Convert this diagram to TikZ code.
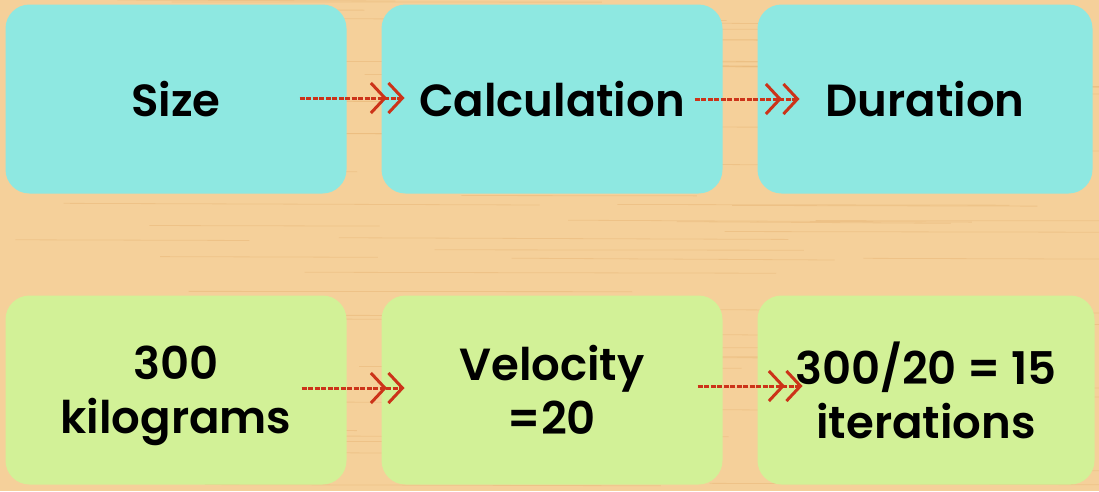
\documentclass[tikz,border=0pt]{standalone}
\usepackage{fontspec}
\setmainfont{Poppins SemiBold}
\usepackage{xcolor}
\usetikzlibrary{arrows.meta,positioning}

\definecolor{woodtan}{HTML}{F5D09A}
\definecolor{woodgrain}{HTML}{E8B676}
\definecolor{cardcyan}{HTML}{8EE8E1}
\definecolor{cardgreen}{HTML}{D2F197}
\definecolor{chalkred}{HTML}{CC3319}

\begin{document}
\begin{tikzpicture}[x=1pt, y=-1pt, node distance=35pt,
    card/.style={rectangle, rounded corners=24pt, minimum width=341pt, minimum height=189pt,
      inner sep=0pt, outer sep=0pt, align=center, text depth=0pt, font=\fontsize{45}{54}\selectfont},
    topcard/.style={card, fill=cardcyan},
    lowcard/.style={card, fill=cardgreen},
    chalk/.style={draw=chalkred, line width=3pt, dash pattern=on 5pt off 1.5pt,
      -{Straight Barb[length=14pt,width=30pt,line width=3pt]Straight Barb[length=14pt,width=30pt,line width=3pt]}}]
    % wooden table
    \fill[woodtan] (0,0) rectangle (1099,491);
    \useasboundingbox (0,0) rectangle (1099,491);
    \pgfmathsetseed{7}
    \foreach \i in {1,...,70} {
        \pgfmathsetmacro\gy{rnd*491}
        \pgfmathsetmacro\gx{rnd*900}
        \draw[woodgrain, opacity=0.5, line width=0.8pt] (\gx,\gy) -- (\gx+200+rnd*300,\gy+rnd*2);
    }

    % top row
    \node[topcard] (size) at (176,99) {Size};
    \node[topcard, right=of size] (calc) {Calculation};
    \node[topcard, right=of calc, minimum width=335pt] (dur) {Duration};

    % bottom row
    \node[lowcard, below=102pt of size] (kilo) {300\\kilograms};
    \node[lowcard, right=of kilo] (velo) {Velocity\\=20};
    \node[lowcard, right=of velo, minimum width=337pt] (iter) {300/20 = 15\\iterations};

    % chalk arrows
    \draw[chalk] ([xshift=-47pt, yshift=1pt]size.east) -- ([xshift=23pt, yshift=1pt]calc.west);
    \draw[chalk] ([xshift=-28pt]calc.east) -- ([xshift=42pt]dur.west);
    \draw[chalk] ([xshift=-45pt, yshift=2pt]kilo.east) -- ([xshift=23pt, yshift=2pt]velo.west);
    \draw[chalk] ([xshift=-25pt, yshift=4pt]velo.east) -- ([xshift=45pt, yshift=4pt]iter.west);
\end{tikzpicture}
\end{document}
